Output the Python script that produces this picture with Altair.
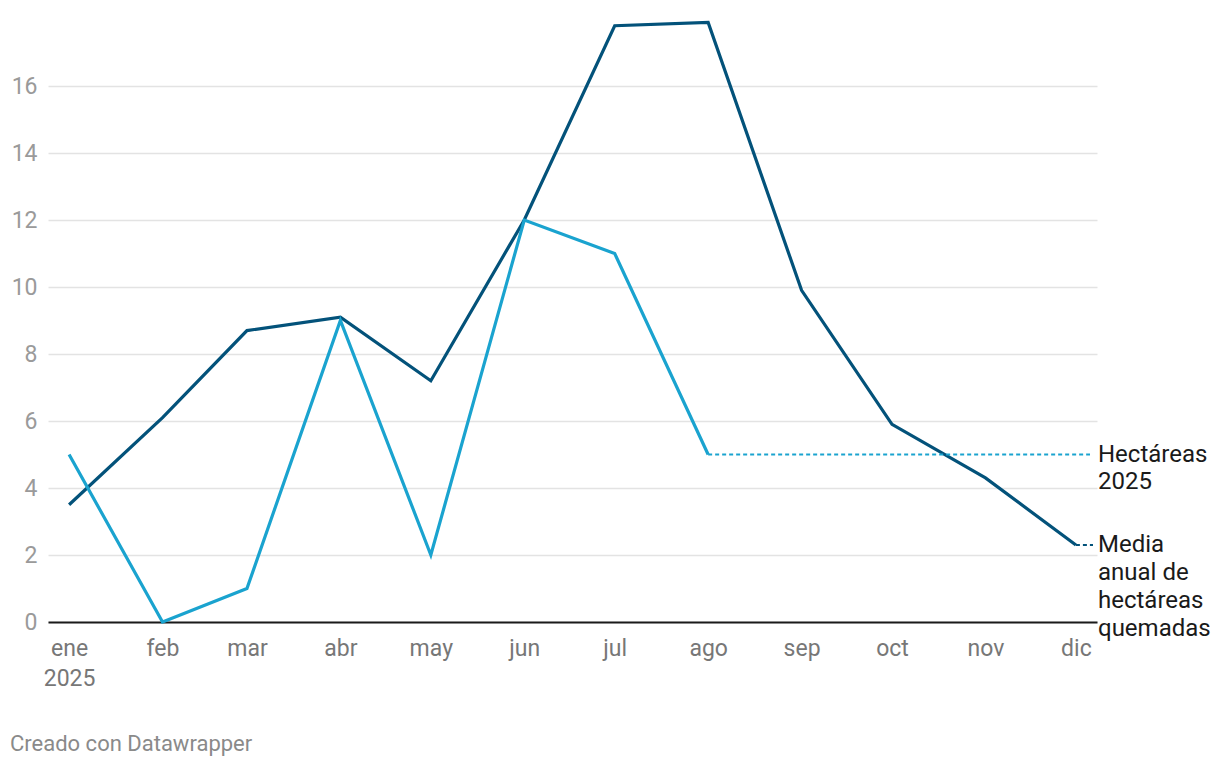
import altair as alt
import pandas as pd

months = ["2025-01-01", "2025-02-01", "2025-03-01", "2025-04-01", "2025-05-01", "2025-06-01",
          "2025-07-01", "2025-08-01", "2025-09-01", "2025-10-01", "2025-11-01", "2025-12-01"]
media = [3.5, 6.1, 8.7, 9.1, 7.2, 12.0, 17.8, 17.9, 9.9, 5.9, 4.3, 2.3]
hect2025 = [5, 0, 1, 9, 2, 12, 11, 5]
month_labels = ["ene", "feb", "mar", "abr", "may", "jun", "jul", "ago", "sep", "oct", "nov", "dic"]
y_ticks = [0, 2, 4, 6, 8, 10, 12, 14, 16]

DARK = "#03527a"
LIGHT = "#1aa3cf"

df_media = pd.DataFrame({"date": months, "v": media})
df_h = pd.DataFrame({"date": months[:len(hect2025)], "v": hect2025})
df_h_last = df_h.tail(1)
df_m_last = df_media.tail(1)

label_expr = ("utcmonth(datum.value) == 0 ? ['ene', '2025'] : "
              + str(month_labels) + "[utcmonth(datum.value)]")

x = alt.X("date:T", title=None,
          scale=alt.Scale(type="utc",
                          domain=[alt.DateTime(year=2024, month=12, date=25, utc=True),
                                  alt.DateTime(year=2025, month=12, date=8, utc=True)]),
          axis=alt.Axis(values=[alt.DateTime(year=2025, month=m, date=1, utc=True) for m in range(1, 13)],
                        labelExpr=label_expr, grid=False, ticks=False,
                        domain=True, domainColor="#1a1a1a", domainWidth=2,
                        labelColor="#777777", labelFontSize=23, labelPadding=15,
                        labelLineHeight=30, labelFont="Roboto", labelBaseline="top"))
y = alt.Y("v:Q", title=None,
          scale=alt.Scale(domain=[0, 18], nice=False),
          axis=alt.Axis(values=y_ticks, grid=True, gridColor="#e3e3e3", gridWidth=1.3,
                        ticks=False, domain=False, labelColor="#9a9a9a", labelFontSize=23,
                        labelPadding=11, labelFont="Roboto"))

base_m = alt.Chart(df_media)
base_h = alt.Chart(df_h)

line_m = base_m.mark_line(color=DARK, strokeWidth=3.2, clip=False).encode(x=x, y=y)
line_h = base_h.mark_line(color=LIGHT, strokeWidth=3.2, clip=False).encode(x=x, y=y)

dot_h = alt.Chart(df_h_last).mark_rule(color=LIGHT, strokeWidth=2, strokeDash=[4, 3]).encode(
    x=x, x2=alt.value(1042), y="v:Q")
dot_m = alt.Chart(df_m_last).mark_rule(color=DARK, strokeWidth=2, strokeDash=[4, 3]).encode(
    x=x, x2=alt.value(1045), y="v:Q")

label_h_lines = ["Hectáreas", "2025"]
label_m_lines = ["Media", "anual de", "hectáreas", "quemadas"]

texts = []
for i, t in enumerate(label_h_lines):
    texts.append(alt.Chart(df_h_last).mark_text(
        align="left", baseline="middle", fontSize=24, font="Roboto", color="#1a1a1a",
        dy=i * 27, clip=False).encode(x=alt.value(1050), y="v:Q", text=alt.value(t)))
for i, t in enumerate(label_m_lines):
    texts.append(alt.Chart(df_m_last).mark_text(
        align="left", baseline="middle", fontSize=24, font="Roboto", color="#1a1a1a",
        dy=i * 28, clip=False).encode(x=alt.value(1050), y="v:Q", text=alt.value(t)))

footer = alt.Chart(df_m_last).mark_text(
    align="left", baseline="middle", fontSize=22, font="Roboto", color="#8a8a8a").encode(
    x=alt.value(-38), y=alt.value(725), text=alt.value("Creado con Datawrapper"))

chart = alt.layer(line_m, line_h, dot_h, dot_m, *texts, footer).properties(
    width=1049, height=603,
    padding={"left": 40, "top": 11, "right": 115, "bottom": 140},
    autosize=alt.AutoSizeParams(type="none"),
).configure(font="Roboto").configure_view(stroke=None, strokeWidth=0)

chart.save("out.html", embed_options={"renderer": "svg", "actions": False})
